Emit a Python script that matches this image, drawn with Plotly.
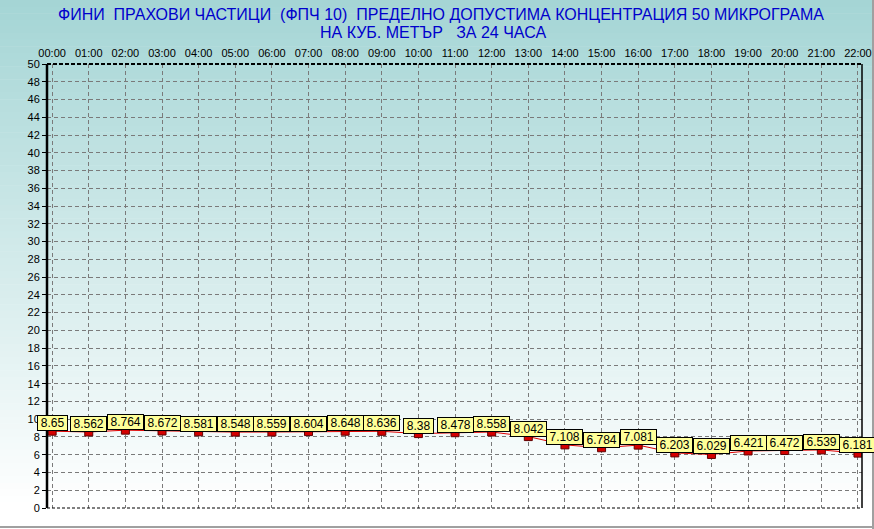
import plotly.graph_objects as go

hours = ["00:00", "01:00", "02:00", "03:00", "04:00", "05:00", "06:00", "07:00",
         "08:00", "09:00", "10:00", "11:00", "12:00", "13:00", "14:00", "15:00",
         "16:00", "17:00", "18:00", "19:00", "20:00", "21:00", "22:00"]
values = [8.65, 8.562, 8.764, 8.672, 8.581, 8.548, 8.559, 8.604, 8.648, 8.636,
          8.38, 8.478, 8.558, 8.042, 7.108, 6.784, 7.081, 6.203, 6.029, 6.421,
          6.472, 6.539, 6.181]
y_ticks = list(range(0, 51, 2))

title_line1 = "ФИНИ\u00a0 ПРАХОВИ ЧАСТИЦИ\u00a0 (ФПЧ 10)\u00a0 ПРЕДЕЛНО ДОПУСТИМА КОНЦЕНТРАЦИЯ 50 МИКРОГРАМА"
title_line2 = "НА КУБ. МЕТЪР\u00a0\u00a0 ЗА 24 ЧАСА"

W, H = 874, 529
L, R, T, B = 47, 862, 64, 508
FONT = "Liberation Sans, Arial, sans-serif"


def xp(px):
    return (px - L) / (R - L)


def yp(py):
    return (B - py) / (B - T)


def label_width(s, size=12):
    w = 0.0
    for ch in s:
        w += 0.5 * size if ch.isdigit() else 0.278 * size
    return w + 8


x_idx = list(range(len(hours)))

fig = go.Figure()
fig.add_trace(go.Scatter(
    x=x_idx, y=values, mode="lines+markers",
    line=dict(color="#e00000", width=1),
    marker=dict(symbol="square", size=8, color="#d40000",
                line=dict(color="#600000", width=1)),
    hoverinfo="skip", showlegend=False,
))

annotations = []
for i, v in enumerate(values):
    txt = f"{v:g}"
    annotations.append(dict(
        x=i, y=v, xref="x", yref="y", text=txt, showarrow=False,
        xanchor="center", yanchor="bottom", yshift=0, width=label_width(txt),
        font=dict(family=FONT, size=12, color="black"),
        bgcolor="#ffff99", bordercolor="black", borderwidth=1, borderpad=0,
    ))
annotations.append(dict(x=xp(441), y=yp(15), xref="paper", yref="paper", text=title_line1,
                        showarrow=False, xanchor="center", yanchor="middle",
                        font=dict(family=FONT, size=16, color="#0000cc")))
annotations.append(dict(x=xp(433), y=yp(32), xref="paper", yref="paper", text=title_line2,
                        showarrow=False, xanchor="center", yanchor="middle",
                        font=dict(family=FONT, size=16, color="#0000cc")))

shapes = []
# background gradient
N = 80
top_c = (164, 213, 213)
for k in range(N):
    y0 = k * H / N
    y1 = (k + 1) * H / N + 0.5
    t = min(1.0, ((y0 + y1) / 2) / 505.0)
    c = tuple(int(round(top_c[j] * (1 - t) + 255 * t)) for j in range(3))
    shapes.append(dict(type="rect", xref="paper", yref="paper",
                       x0=xp(0), x1=xp(W), y0=yp(y1), y1=yp(y0),
                       fillcolor=f"rgb{c}", line=dict(width=0), layer="below"))
# frame lines of window
shapes.append(dict(type="line", xref="paper", yref="paper",
                   x0=xp(0), x1=xp(W), y0=yp(527), y1=yp(527),
                   line=dict(color="#a0a0a0", width=2), layer="above"))
shapes.append(dict(type="line", xref="paper", yref="paper",
                   x0=xp(873), x1=xp(873), y0=yp(0), y1=yp(529),
                   line=dict(color="#a0a0a0", width=2), layer="above"))
# plot borders
shapes.append(dict(type="line", xref="paper", yref="paper", x0=0, x1=1, y0=1, y1=1,
                   line=dict(color="black", width=2, dash="4px,2px"), layer="above"))
shapes.append(dict(type="line", xref="paper", yref="paper", x0=0, x1=1, y0=0, y1=0,
                   line=dict(color="black", width=1, dash="3px,2px"), layer="above"))
shapes.append(dict(type="line", xref="paper", yref="paper", x0=0, x1=0, y0=0, y1=1,
                   line=dict(color="black", width=2.5), layer="above"))
shapes.append(dict(type="line", xref="paper", yref="paper", x0=1, x1=1, y0=0, y1=1,
                   line=dict(color="black", width=1.5), layer="above"))

fig.update_layout(
    width=W, height=H,
    margin=dict(l=L, r=W - R, t=T, b=H - B, autoexpand=False),
    paper_bgcolor="white", plot_bgcolor="rgba(0,0,0,0)",
    xaxis=dict(side="top", tickmode="array", tickvals=x_idx, ticktext=hours, automargin=False,
               range=[-0.14, 22.11], showgrid=True, gridcolor="#7a7a7a", gridwidth=1,
               griddash="4px,3px", zeroline=False, showline=False, ticks="", ticklabelstandoff=4,
               tickfont=dict(family=FONT, size=11, color="black")),
    yaxis=dict(range=[0, 50], tickmode="array", tickvals=y_ticks, automargin=False,
               showgrid=True, gridcolor="#7a7a7a", gridwidth=1, griddash="4px,3px",
               zeroline=False, showline=False, ticks="outside", ticklen=4,
               tickcolor="black",
               tickfont=dict(family=FONT, size=11, color="black")),
    shapes=shapes, annotations=annotations, showlegend=False,
)

fig.write_html("out.html", config={"displayModeBar": False, "staticPlot": True},
               post_script="document.body.style.margin='0';document.body.style.overflow='hidden';")
